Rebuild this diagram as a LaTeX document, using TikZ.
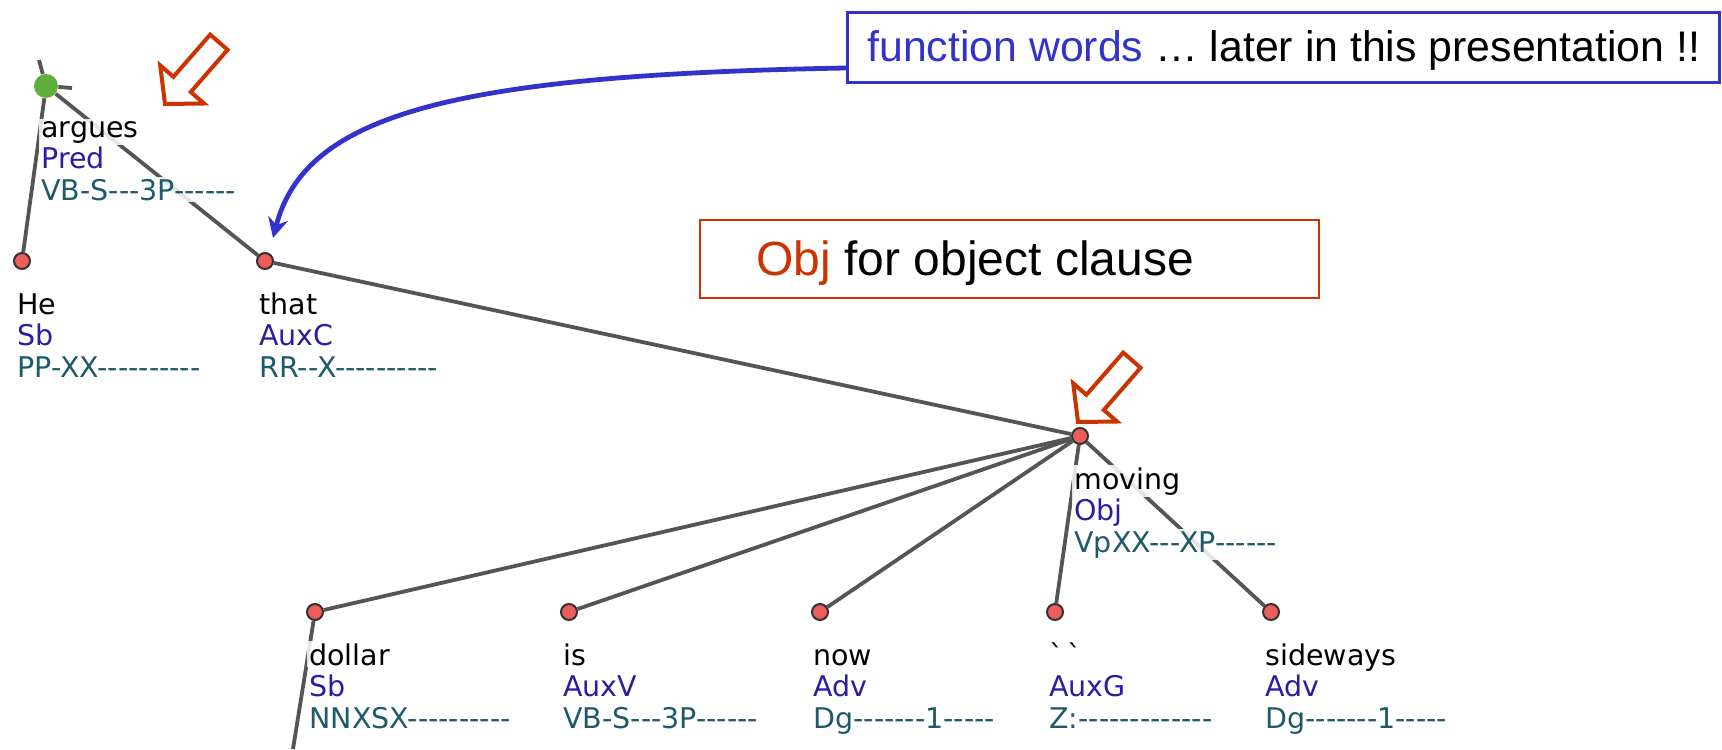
\documentclass[tikz,border=0pt]{standalone}
\usepackage{fontspec}
\setmainfont{DejaVu Sans}[Ligatures=TeXOff]
\newfontfamily\arialf{Liberation Sans}
\usetikzlibrary{arrows.meta,calc}
\definecolor{nodered}{RGB}{238,92,92}
\definecolor{nodegreen}{RGB}{96,174,60}
\definecolor{edgegray}{RGB}{85,85,85}
\definecolor{afun}{RGB}{42,30,160}
\definecolor{tagc}{RGB}{30,90,105}
\definecolor{fwblue}{RGB}{51,51,204}
\definecolor{hlred}{RGB}{204,51,0}
\tikzset{
  edge/.style={draw=edgegray, line width=1.9pt},
  rnode/.style={circle, fill=nodered, draw=black!80, line width=1pt, minimum size=8pt, inner sep=0pt},
  gnode/.style={circle, fill=nodegreen, minimum size=12pt, inner sep=0pt},
  lab/.style={anchor=base west, fill=white, fill opacity=0.85, text opacity=1, inner xsep=1pt, inner ysep=1pt, font=\fontsize{14.25}{16}\selectfont},
  hollow/.style={draw=hlred, line width=2pt, fill=white, line join=miter},
  callout/.style={fill=white, inner sep=0pt, anchor=north west},
}
\newcommand\treelabel[6]{%
  \node[lab, text=black] (#1w) at (#2-8,#3+53) {#4};
  \node[lab, text=afun] (#1a) at (#2-8,#3+84.5) {#5};
  \node[lab, text=tagc] (#1t) at (#2-8,#3+116) {#6};
}
\begin{document}
\begin{tikzpicture}[x=0.5pt,y=-0.5pt]
\useasboundingbox (0,0) rectangle (1722,749);
% tree nodes
\node[gnode] (argues) at (46,86) {};
\node[rnode] (he) at (22,261) {};
\node[rnode] (that) at (265,261) {};
\node[rnode] (moving) at (1080,436) {};
\node[rnode] (dollar) at (315,612) {};
\node[rnode] (is) at (569,612) {};
\node[rnode] (now) at (820,612) {};
\node[rnode] (quote) at (1055,612) {};
\node[rnode] (sideways) at (1271,612) {};
\coordinate (up) at (39,60);
\coordinate (rt) at (72,88);
\coordinate (down) at (293,749);
% edges
\draw[edge] (argues) -- (up);
\draw[edge] (argues) -- (rt);
\draw[edge] (argues) -- (he);
\draw[edge] (argues) -- (that);
\draw[edge] (that) -- (moving);
\draw[edge] (moving) -- (dollar);
\draw[edge] (moving) -- (is);
\draw[edge] (moving) -- (now);
\draw[edge] (moving) -- (quote);
\draw[edge] (moving) -- (sideways);
\draw[edge] (dollar) -- (down);
% labels
\treelabel{argues}{47}{84}{argues}{Pred}{VB-S---3P------}
\treelabel{he}{23}{261}{He}{Sb}{PP-XX----------}
\treelabel{that}{265}{261}{that}{AuxC}{RR--X----------}
\treelabel{moving}{1080}{436}{moving}{Obj}{VpXX---XP------}
\treelabel{dollar}{315}{612}{dollar}{Sb}{NNXSX----------}
\treelabel{is}{569}{612}{is}{AuxV}{VB-S---3P------}
\treelabel{now}{819}{612}{now}{Adv}{Dg-------1-----}
\treelabel{quote}{1055}{612}{`\kern2pt`}{AuxG}{Z:-------------}
\treelabel{sideways}{1271}{612}{sideways}{Adv}{Dg-------1-----}
% hollow highlight arrows
\draw[hollow] (165,104) -- (204.0,103.5) -- (190.8,92.0) -- (227.6,49.8) -- (210.2,34.6) -- (173.4,76.8) -- (160.2,65.3) -- cycle;
\draw[hollow] (1078,422) -- (1117.0,421.5) -- (1103.8,410.0) -- (1140.6,367.8) -- (1123.2,352.6) -- (1086.4,394.8) -- (1073.2,383.3) -- cycle;
% callout boxes
\node[callout, draw=fwblue, line width=1.5pt, minimum width=436pt, minimum height=35pt] (fwbox) at (846,11) {};
\node[anchor=base west, inner sep=0pt, font=\arialf\fontsize{21.4}{25}\selectfont] (fwtext) at (867,62) {\textcolor{fwblue}{function words} … later in this presentation !!};
\node[callout, draw=hlred, line width=1.1pt, minimum width=309.5pt, minimum height=39pt] (objbox) at (699,219) {};
\node[anchor=base west, inner sep=0pt, font=\arialf\fontsize{24}{28}\selectfont] (objtext) at (756,275) {\textcolor{hlred}{Obj} for object clause};
% blue arrow
\draw[fwblue, line width=2.4pt, -{Stealth[length=10pt,width=10pt]}] ($(fwbox.south west)+(0,-16)$) .. controls (450,75) and (305,115) .. ($(that)+(8,-23)$);
\end{tikzpicture}
\end{document}
